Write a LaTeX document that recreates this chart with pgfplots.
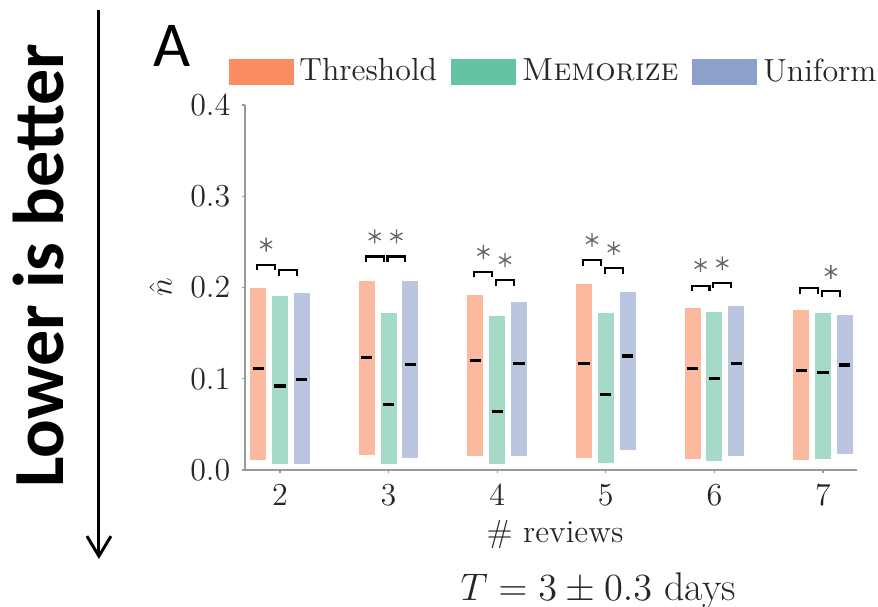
\documentclass[12pt,border=0pt]{standalone}
\usepackage{fontspec}
\newfontfamily\carlito{Carlito}
\usepackage{pgfplots}
\pgfplotsset{compat=1.18}
\usepackage{pgfplotstable}
\usetikzlibrary{arrows.meta}

\definecolor{thrC}{HTML}{FC8D62}
\definecolor{memC}{HTML}{66C2A5}
\definecolor{uniC}{HTML}{8DA0CB}
\definecolor{thrL}{HTML}{FBB9A0}
\definecolor{memL}{HTML}{A5DAC8}
\definecolor{uniL}{HTML}{BAC5DF}
\definecolor{spine}{HTML}{999999}

% short horizontal line for the medians
\pgfdeclareplotmark{medline}{%
  \pgfpathmoveto{\pgfqpoint{-\pgfplotmarksize}{0pt}}%
  \pgfpathlineto{\pgfqpoint{\pgfplotmarksize}{0pt}}%
  \pgfusepathqstroke}

% bar bottom, median and top for each number of reviews
\pgfplotstableread{
n bot med top
2 0.011 0.111 0.199
3 0.016 0.123 0.2075
4 0.015 0.120 0.192
5 0.0135 0.117 0.204
6 0.012 0.111 0.178
7 0.011 0.109 0.1753
}\thresh
\pgfplotstableread{
n bot med top
2 0.007 0.092 0.191
3 0.007 0.072 0.172
4 0.007 0.064 0.169
5 0.008 0.083 0.172
6 0.010 0.100 0.1735
7 0.012 0.107 0.1717
}\memo
\pgfplotstableread{
n bot med top
2 0.007 0.099 0.194
3 0.013 0.116 0.2075
4 0.015 0.117 0.184
5 0.022 0.125 0.195
6 0.015 0.117 0.180
7 0.018 0.115 0.170
}\unif

\pgfplotsset{
  rangebar/.style={draw=none, mark=none, forget plot,
    error bars/.cd, y dir=both, y explicit, error mark=none,
    error bar style={line width=6pt, draw=#1}},
  medmark/.style={only marks, mark=medline, mark size=2.1pt, forget plot,
    mark options={draw=black, line width=1.2pt}},
}

\begin{document}
\begin{tikzpicture}
\useasboundingbox (0,0) rectangle (329.25pt,227.625pt);

\node[font=\carlito\bfseries\fontsize{27}{32}\selectfont, rotate=90] at (14.6pt,128pt) {Lower is better};
\draw[line width=1.1pt, -{Straight Barb[length=7.5pt,width=9pt,line width=1.1pt]}] (37.1pt,224pt) -- (37.1pt,18pt);
\node[font=\carlito\fontsize{24}{28}\selectfont] at (64.6pt,210.3pt) {A};

\begin{axis}[
  at={(91.875pt,51.375pt)}, anchor=south west,
  scale only axis, width=229.5pt, height=136.875pt,
  xmin=1.678, xmax=7.313, ymin=0, ymax=0.4,
  clip=false,
  axis lines*=left,
  axis line style={spine, line width=0.5pt},
  tick style={spine, line width=0.5pt},
  tick align=outside, major tick length=1.3pt,
  xtick={2,3,4,5,6,7},
  ytick={0,0.1,0.2,0.3,0.4},
  yticklabel style={/pgf/number format/.cd, fixed, fixed zerofill, precision=1},
  tick label style={black!85},
  xlabel={\# reviews},
  ylabel={$\hat{n}$},
  xlabel style={at={(axis description cs:0.5065,-0.178)}, anchor=center, black!85},
  ylabel style={at={(axis description cs:-0.138,0.5)}, anchor=center, black!85},
  legend columns=3,
  legend style={at={(-0.0278,1.09)}, anchor=west, draw=none, fill=none,
    inner sep=0pt, nodes={inner sep=2.2pt, text=black!85},
    /tikz/every even column/.append style={column sep=3pt}},
]
\addlegendimage{legend image code/.code={\fill[thrC] (0pt,-4.7pt) rectangle (24pt,4.7pt);}}
\addlegendentry{Threshold}
\addlegendimage{legend image code/.code={\fill[memC] (0pt,-4.7pt) rectangle (24pt,4.7pt);}}
\addlegendentry{\textsc{Memorize}}
\addlegendimage{legend image code/.code={\fill[uniC] (0pt,-4.7pt) rectangle (24pt,4.7pt);}}
\addlegendentry{Uniform}

\addplot[rangebar=thrL] table[x expr=\thisrow{n}-0.2, y=med,
  y error plus expr=\thisrow{top}-\thisrow{med},
  y error minus expr=\thisrow{med}-\thisrow{bot}] {\thresh};
\addplot[rangebar=memL] table[x expr=\thisrow{n}, y=med,
  y error plus expr=\thisrow{top}-\thisrow{med},
  y error minus expr=\thisrow{med}-\thisrow{bot}] {\memo};
\addplot[rangebar=uniL] table[x expr=\thisrow{n}+0.2, y=med,
  y error plus expr=\thisrow{top}-\thisrow{med},
  y error minus expr=\thisrow{med}-\thisrow{bot}] {\unif};

\addplot[medmark] table[x expr=\thisrow{n}-0.2, y=med] {\thresh};
\addplot[medmark] table[x expr=\thisrow{n}, y=med] {\memo};
\addplot[medmark] table[x expr=\thisrow{n}+0.2, y=med] {\unif};

% significance brackets
\addplot[black, line width=0.8pt, forget plot, unbounded coords=jump] coordinates {
  (1.79,0.219) (1.79,0.225) (1.955,0.225) (1.955,0.219) (1.955,nan)
  (1.99,0.213) (1.99,0.219) (2.155,0.219) (2.155,0.213) (2.155,nan)
  (2.79,0.228) (2.79,0.234) (2.955,0.234) (2.955,0.228) (2.955,nan)
  (2.99,0.228) (2.99,0.234) (3.155,0.234) (3.155,0.228) (3.155,nan)
  (3.79,0.211) (3.79,0.217) (3.955,0.217) (3.955,0.211) (3.955,nan)
  (3.99,0.202) (3.99,0.208) (4.155,0.208) (4.155,0.202) (4.155,nan)
  (4.79,0.224) (4.79,0.230) (4.955,0.230) (4.955,0.224) (4.955,nan)
  (4.99,0.215) (4.99,0.221) (5.155,0.221) (5.155,0.215) (5.155,nan)
  (5.79,0.196) (5.79,0.202) (5.955,0.202) (5.955,0.196) (5.955,nan)
  (5.99,0.199) (5.99,0.205) (6.155,0.205) (6.155,0.199) (6.155,nan)
  (6.79,0.193) (6.79,0.199) (6.955,0.199) (6.955,0.193) (6.955,nan)
  (6.99,0.190) (6.99,0.196) (7.155,0.196) (7.155,0.190)
};
\addplot[only marks, mark=asterisk, mark size=2.6pt, forget plot,
  mark options={black!60, line width=0.5pt}] coordinates {
  (1.8725,0.247)
  (2.8725,0.256) (3.0725,0.256)
  (3.8725,0.239) (4.0725,0.230)
  (4.8725,0.252) (5.0725,0.243)
  (5.8725,0.2247) (6.0725,0.2265)
  (7.0725,0.217)
};

\node[font=\fontsize{15}{18}\selectfont, black!85] at (rel axis cs:0.577,-0.33) {$T = 3 \pm 0.3$ days};
\end{axis}
\end{tikzpicture}
\end{document}
